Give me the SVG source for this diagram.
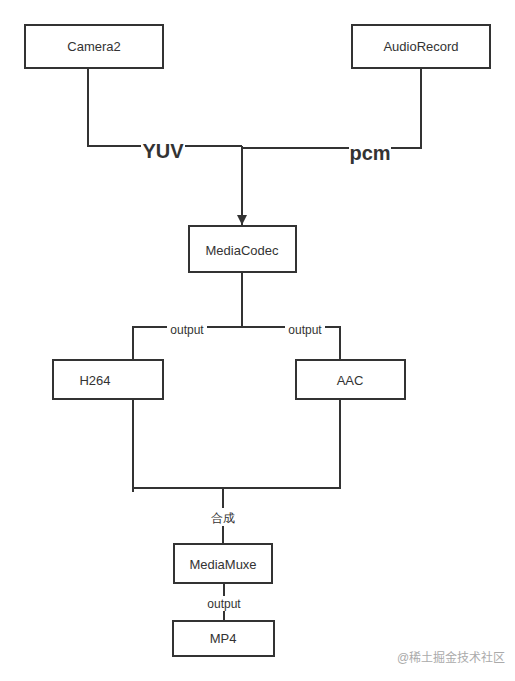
<svg xmlns="http://www.w3.org/2000/svg" width="515" height="681" viewBox="0 0 515 681">
<style>
.box{fill:#fff;stroke:#333;stroke-width:2}
.lbl{font-family:"Liberation Sans",Arial,sans-serif;font-size:13px;fill:#333;text-anchor:middle}
.edge{fill:none;stroke:#333;stroke-width:2}
.elbl{font-family:"Liberation Sans",Arial,sans-serif;font-size:12px;fill:#333;text-anchor:middle}
.big{font-family:"Liberation Sans",Arial,sans-serif;font-size:20px;fill:#333;text-anchor:middle}
</style>
<defs>
<marker id="arr" viewBox="0 0 10 10" refX="10" refY="5" markerWidth="10" markerHeight="10" markerUnits="userSpaceOnUse" orient="auto">
<path d="M0,0 L10,5 L0,10 z" fill="#333"/>
</marker>
</defs>
<rect width="515" height="681" fill="#fff"/>
<g id="connectors">
<path class="edge" d="M88,68 V146 H242"/>
<path class="edge" d="M421,68 V148 H242"/>
<path class="edge" d="M242,146 V225" marker-end="url(#arr)"/>
<path class="edge" d="M242,272 V327"/>
<path class="edge" d="M133,360 V327 H340 V360"/>
<path class="edge" d="M133,399 V492"/>
<path class="edge" d="M340,399 V488 H133"/>
<path class="edge" d="M223,487 V544"/>
<path class="edge" d="M224,583 V621"/>
<rect x="141" y="138" width="44" height="22" fill="#fff"/>
<text class="big" x="163" y="158" font-weight="bold">YUV</text>
<rect x="349" y="140" width="42" height="22" fill="#fff"/>
<text class="big" x="370" y="160" font-weight="bold">pcm</text>
<rect x="167" y="320" width="40" height="14" fill="#fff"/>
<text class="elbl" x="187" y="334">output</text>
<rect x="285" y="320" width="40" height="14" fill="#fff"/>
<text class="elbl" x="305" y="334">output</text>
<rect x="208" y="508" width="30" height="18" fill="#fff"/>
<text class="elbl" x="223" y="522" font-family="'Liberation Sans','Noto Sans CJK SC',sans-serif">合成</text>
<rect x="203" y="596" width="42" height="15" fill="#fff"/>
<text class="elbl" x="224" y="608">output</text>
</g>
<g id="camera2"><rect class="box" x="25" y="25" width="138" height="43"/><text class="lbl" x="94" y="51">Camera2</text></g>
<g id="audiorecord"><rect class="box" x="352" y="25" width="138" height="43"/><text class="lbl" x="421" y="51">AudioRecord</text></g>
<g id="mediacodec"><rect class="box" x="189" y="226" width="107" height="46"/><text class="lbl" x="242" y="255">MediaCodec</text></g>
<g id="h264"><rect class="box" x="53" y="360" width="110" height="39"/><text class="lbl" x="95" y="385">H264</text></g>
<g id="aac"><rect class="box" x="296" y="360" width="109" height="39"/><text class="lbl" x="350" y="385">AAC</text></g>
<g id="mediamuxe"><rect class="box" x="174" y="544" width="98" height="39"/><text class="lbl" x="223" y="569">MediaMuxe</text></g>
<g id="mp4"><rect class="box" x="173" y="621" width="101" height="35"/><text class="lbl" x="223" y="643">MP4</text></g>
<text x="451" y="662" font-family="'Liberation Sans','Noto Sans CJK SC',sans-serif" font-size="12" fill="#aaa" text-anchor="middle">@稀土掘金技术社区</text>
</svg>
